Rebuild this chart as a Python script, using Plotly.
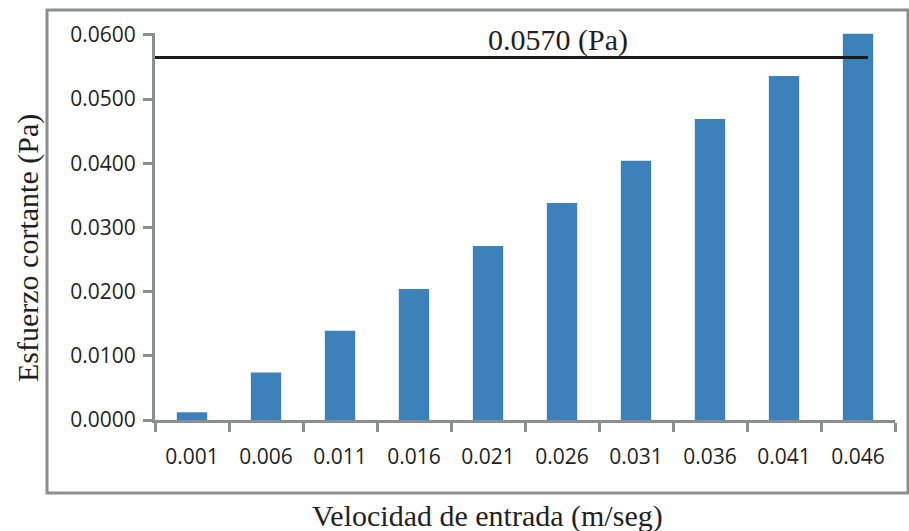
import plotly.graph_objects as go

categories = ["0.001", "0.006", "0.011", "0.016", "0.021", "0.026", "0.031", "0.036", "0.041", "0.046"]
esfuerzo = [0.0012, 0.0074, 0.0139, 0.0204, 0.0271, 0.0338, 0.0404, 0.0469, 0.0536, 0.0602]
limite = 0.0565
limite_label = "0.0570 (Pa)"
y_ticks = [0.0, 0.01, 0.02, 0.03, 0.04, 0.05, 0.06]
y_ticklabels = ["0.0000", "0.0100", "0.0200", "0.0300", "0.0400", "0.0500", "0.0600"]
x_title = "Velocidad de entrada (m/seg)"
y_title = "Esfuerzo cortante (Pa)"

axis_gray = "#8a8d91"
text_col = "#231f20"
serif = "Liberation Serif, Times New Roman, serif"
sans = "Open Sans, sans-serif"

fig = go.Figure()
fig.add_trace(go.Bar(x=categories, y=esfuerzo, marker=dict(color="#3d81ba", line=dict(width=0)),
                     width=0.41, showlegend=False))

fig.update_layout(
    width=909, height=531,
    margin=dict(l=155, r=14, t=33, b=111),
    paper_bgcolor="white", plot_bgcolor="white",
    bargap=0.59,
    xaxis=dict(type="category", range=[-0.5, 9.5], showgrid=False, zeroline=False,
               showline=True, linecolor=axis_gray, linewidth=3,
               ticks="outside", tickson="boundaries", ticklen=9, tickwidth=3, tickcolor=axis_gray,
               ticklabelstandoff=16,
               tickfont=dict(family=sans, size=21, color=text_col)),
    yaxis=dict(range=[0, 0.0603], tickvals=y_ticks, ticktext=y_ticklabels, showgrid=False, zeroline=False,
               showline=True, linecolor=axis_gray, linewidth=3,
               ticks="outside", ticklen=9, tickwidth=3, tickcolor=axis_gray,
               ticklabelstandoff=3,
               tickfont=dict(family=sans, size=21, color=text_col)),
    shapes=[
        dict(type="rect", xref="paper", yref="paper",
             x0=(47 - 155) / 740, x1=(908 - 155) / 740,
             y0=(531 - 111 - 493) / 387, y1=(531 - 111 - 10) / 387,
             line=dict(color=axis_gray, width=3), fillcolor="rgba(0,0,0,0)", layer="below"),
        dict(type="line", xref="paper", yref="y", x0=0, x1=(868 - 155) / 740,
             y0=limite, y1=limite, line=dict(color="#1a1a1a", width=3), layer="above"),
    ],
    annotations=[
        dict(text=limite_label, x=(558 - 155) / 740, y=(531 - 111 - 40) / 387, xref="paper", yref="paper",
             showarrow=False, xanchor="center", yanchor="middle",
             font=dict(family=serif, size=30, color=text_col)),
        dict(text=x_title, x=(487 - 155) / 740, y=(531 - 111 - 516) / 387, xref="paper", yref="paper",
             showarrow=False, xanchor="center", yanchor="middle",
             font=dict(family=serif, size=30, color=text_col)),
        dict(text=y_title, x=(28 - 155) / 740, y=(531 - 111 - 248) / 387, xref="paper", yref="paper",
             showarrow=False, xanchor="center", yanchor="middle", textangle=-90,
             font=dict(family=serif, size=30, color=text_col)),
    ],
)

fig.write_html("out.html")
